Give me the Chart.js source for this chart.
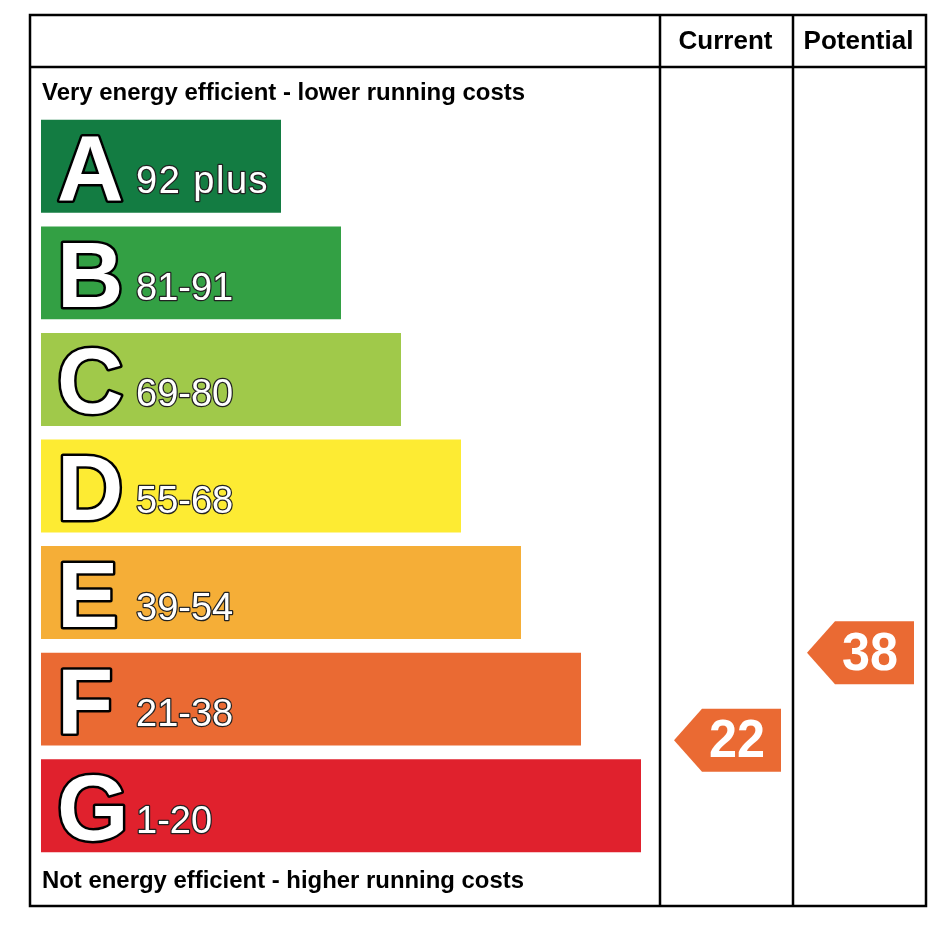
<!DOCTYPE html>
<html>
<head>
<meta charset="utf-8">
<script src="https://cdn.jsdelivr.net/npm/chart.js@4.4.1/dist/chart.umd.min.js"></script>
<style>
  html, body { margin: 0; padding: 0; background: #fff; }
  #wrap { width: 946px; height: 926px; }
</style>
</head>
<body>
<div id="wrap"><canvas id="epc" width="946" height="926"></canvas></div>
<script>
// bands, top (most efficient) to bottom
const bands = ["A", "B", "C", "D", "E", "F", "G"];
const bandRanges = ["92 plus", "81-91", "69-80", "55-68", "39-54", "21-38", "1-20"];
const bandMin = [92, 81, 69, 55, 39, 21, 1];
const bandMax = [100, 91, 80, 68, 54, 38, 20];
const barLengths = [40, 50, 60, 70, 80, 90, 100];
const bandColors = ["#137c42", "#33a044", "#a0c94a", "#fdeb33", "#f5ae37", "#ea6a33", "#e0212d"];

const currentRating = 22;
const potentialRating = 38;

const BAR_FRAC = 0.872;
const FONT = "'Liberation Sans', Arial, sans-serif";

function bandOf(r) {
  for (let i = 0; i < bands.length; i++) {
    if (r >= bandMin[i] && r <= bandMax[i]) return i;
  }
  return bands.length - 1;
}

// rating -> fractional category index, inside its band's bar
function ratingToIndex(r) {
  const i = bandOf(r);
  const t = (r - bandMin[i]) / (bandMax[i] - bandMin[i]);
  return i + BAR_FRAC / 2 - t * BAR_FRAC;
}

const epcPlugin = {
  id: "epc",
  afterDatasetsDraw(chart) {
    const ctx = chart.ctx;
    const meta = chart.getDatasetMeta(0);
    const yScale = chart.scales.y;

    // letters and ranges on the bars
    meta.data.forEach((bar, i) => {
      const left = bar.base;
      ctx.save();
      ctx.lineJoin = "round";
      ctx.textBaseline = "alphabetic";
      ctx.textAlign = "left";
      ctx.font = "bold 92px " + FONT;
      ctx.strokeStyle = "#000";
      ctx.lineWidth = 5;
      ctx.strokeText(bands[i], left + 16, bar.y + 34);
      ctx.fillStyle = "#fff";
      ctx.fillText(bands[i], left + 16, bar.y + 34);

      ctx.font = "38px " + FONT;
      if (i === 0) ctx.letterSpacing = "1.5px";
      ctx.lineWidth = 2.5;
      ctx.strokeStyle = "#222";
      ctx.strokeText(bandRanges[i], left + 95, bar.y + 27);
      ctx.fillText(bandRanges[i], left + 95, bar.y + 27);
      ctx.restore();
    });

    // frame
    const L = 30, R = 926, T = 15, B = 906, H = 67, C1 = 660, C2 = 793;
    ctx.save();
    ctx.strokeStyle = "#000";
    ctx.lineWidth = 2.5;
    ctx.strokeRect(L, T, R - L, B - T);
    ctx.beginPath();
    ctx.moveTo(L, H); ctx.lineTo(R, H);
    ctx.moveTo(C1, T); ctx.lineTo(C1, B);
    ctx.moveTo(C2, T); ctx.lineTo(C2, B);
    ctx.stroke();

    ctx.fillStyle = "#000";
    ctx.font = "bold 26px " + FONT;
    ctx.textAlign = "center";
    ctx.textBaseline = "alphabetic";
    ctx.fillText("Current", (C1 + C2) / 2 - 1, 49);
    ctx.fillText("Potential", (C2 + R) / 2 - 1, 49);

    ctx.textAlign = "left";
    ctx.font = "bold 24px " + FONT;
    ctx.fillText("Very energy efficient - lower running costs", 42, 100, 483);
    ctx.fillText("Not energy efficient - higher running costs", 42, 888, 482);

    // rating arrows
    const arrows = [
      { value: currentRating, left: C1, right: C2 },
      { value: potentialRating, left: C2, right: R }
    ];
    arrows.forEach(a => {
      const y = yScale.getPixelForValue(ratingToIndex(a.value));
      const tip = a.left + 14, body = a.left + 42, end = a.right - 12, h = 31.5;
      ctx.beginPath();
      ctx.moveTo(tip, y);
      ctx.lineTo(body, y - h);
      ctx.lineTo(end, y - h);
      ctx.lineTo(end, y + h);
      ctx.lineTo(body, y + h);
      ctx.closePath();
      ctx.fillStyle = bandColors[bandOf(a.value)];
      ctx.fill();
      ctx.fillStyle = "#fff";
      ctx.font = "bold 54px " + FONT;
      ctx.textAlign = "center";
      ctx.textBaseline = "middle";
      ctx.fillText(String(a.value), end - 44, y + 2, 56);
    });
    ctx.restore();
  }
};

new Chart(document.getElementById("epc"), {
  type: "bar",
  data: {
    labels: bands,
    datasets: [{
      data: barLengths,
      backgroundColor: bandColors,
      borderWidth: 0,
      barPercentage: BAR_FRAC,
      categoryPercentage: 1
    }]
  },
  options: {
    indexAxis: "y",
    responsive: false,
    animation: false,
    layout: { padding: { left: 41, right: 305, top: 113, bottom: 67 } },
    scales: {
      x: { display: false, min: 0, max: 100 },
      y: { display: false }
    },
    plugins: {
      legend: { display: false },
      tooltip: { enabled: false }
    }
  },
  plugins: [epcPlugin]
});
</script>
</body>
</html>
